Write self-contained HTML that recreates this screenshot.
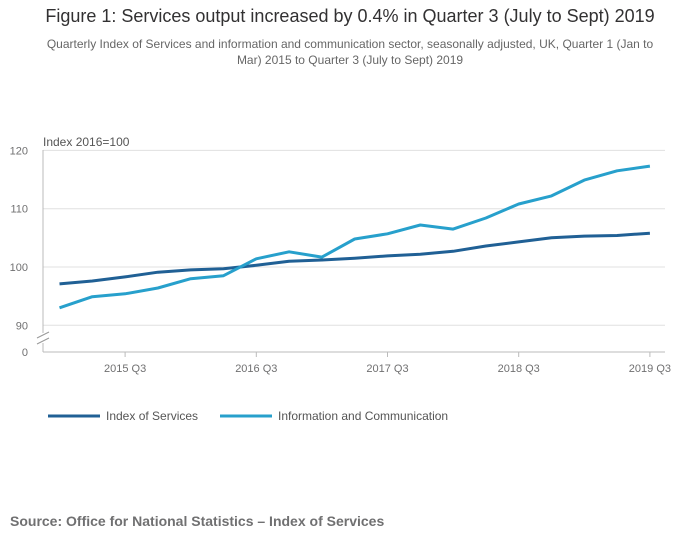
<!DOCTYPE html>
<html><head><meta charset="utf-8">
<style>
body{margin:0;background:#fff;font-family:"Liberation Sans",sans-serif;}
#wrap{position:relative;width:700px;height:549px;overflow:hidden;}
.t{position:absolute;}
</style></head>
<body>
<div id="wrap">
<div class="t" style="left:0;width:700px;top:6px;text-align:center;font-size:18px;color:#323132;">Figure 1: Services output increased by 0.4% in Quarter 3 (July to Sept) 2019</div>
<div class="t" style="left:37px;width:626px;top:36px;text-align:center;font-size:12px;line-height:16px;color:#666;">Quarterly Index of Services and information and communication sector, seasonally adjusted, UK, Quarter 1 (Jan to Mar) 2015 to Quarter 3 (July to Sept) 2019</div>
<svg id="chart" width="700" height="549" style="position:absolute;left:0;top:0"></svg>
<div class="t" style="left:10px;top:513px;font-size:14px;font-weight:bold;color:#707071;">Source: Office for National Statistics – Index of Services</div>
</div>
<script>
const categories=["2015 Q1","2015 Q2","2015 Q3","2015 Q4","2016 Q1","2016 Q2","2016 Q3","2016 Q4","2017 Q1","2017 Q2","2017 Q3","2017 Q4","2018 Q1","2018 Q2","2018 Q3","2018 Q4","2019 Q1","2019 Q2","2019 Q3"];
const services=[97.1,97.6,98.3,99.1,99.5,99.7,100.3,101.0,101.2,101.5,101.9,102.2,102.7,103.6,104.3,105.0,105.3,105.4,105.8];
const infoComm=[93.0,94.9,95.4,96.4,98.0,98.5,101.4,102.6,101.7,104.8,105.7,107.2,106.5,108.4,110.8,112.2,114.9,116.5,117.3];
const yTicks=[90,100,110,120];
const xTickLabels=["2015 Q3","2016 Q3","2017 Q3","2018 Q3","2019 Q3"];
const NS="http://www.w3.org/2000/svg";
const svg=document.getElementById('chart');
const x0=59.5,dx=32.8;
function xs(i){return x0+i*dx;}
function ys(v){return 267-(v-100)*5.83;}
function mk(t,a){const e=document.createElementNS(NS,t);for(const k in a)e.setAttribute(k,a[k]);svg.appendChild(e);return e;}
yTicks.forEach(v=>{
 const l=mk('line',{x1:43,x2:665,y1:ys(v),y2:ys(v),stroke:'#e0e0e0','stroke-width':1});
 
 
 const t=mk('text',{x:28,y:ys(v)+4,'font-size':11,fill:'#707071','text-anchor':'end','font-family':'Liberation Sans'});
 t.textContent=v;
 
 
});
let z=mk('text',{x:28,y:356,'font-size':11,fill:'#707071','text-anchor':'end','font-family':'Liberation Sans'});z.textContent='0';


let yl=mk('text',{x:43,y:146,'font-size':12,fill:'#555','font-family':'Liberation Sans'});yl.textContent='Index 2016=100';


let ya=mk('path',{d:'M43,150 V333 M43,343 V352',stroke:'#bbb',fill:'none'});


let br=mk('path',{d:'M37,338 L49,332 M37,344 L49,338',stroke:'#999',fill:'none'});


let xa=mk('line',{x1:43,x2:665,y1:352,y2:352,stroke:'#bbb'});


xTickLabels.forEach(lab=>{
 const i=categories.indexOf(lab);
 const tk=mk('line',{x1:xs(i),x2:xs(i),y1:352,y2:357,stroke:'#bbb'});
 
 
 const t=mk('text',{x:xs(i),y:372,'font-size':11,fill:'#707071','text-anchor':'middle','font-family':'Liberation Sans'});
 t.textContent=lab;
 
 
});
function line(vals,col,name){
 const d=vals.map((v,i)=>(i?'L':'M')+xs(i).toFixed(1)+','+ys(v).toFixed(1)).join(' ');
 const p=mk('path',{d:d,stroke:col,'stroke-width':3,fill:'none','stroke-linejoin':'round'});
 
 
}
line(services,'#206095','line-index-of-services');
line(infoComm,'#27a0cc','line-information-communication');
function leg(x,col,label,name){
 const l=mk('line',{x1:x,x2:x+52,y1:416,y2:416,stroke:col,'stroke-width':3});
 
 
 const t=mk('text',{x:x+58,y:420,'font-size':12,fill:'#555','font-family':'Liberation Sans'});
 t.textContent=label;
 
 
}
leg(48,'#206095','Index of Services','legend-index-of-services');
leg(220,'#27a0cc','Information and Communication','legend-information-communication');
</script>
</body></html>
